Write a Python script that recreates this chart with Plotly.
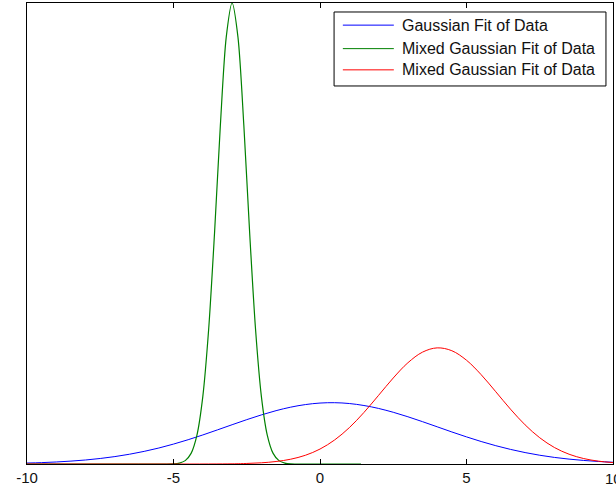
import plotly.graph_objects as go

# Gaussian fit (blue)
blue_x = [-10, -9.5, -9, -8.5, -8, -7.5, -7, -6.5, -6, -5.5, -5, -4.5, -4, -3.5, -3,
          -2.5, -2, -1.5, -1, -0.5, 0, 0.5, 1, 1.5, 2, 2.5, 3, 3.5, 4, 4.5, 5,
          5.5, 6, 6.5, 7, 7.5, 8, 8.5, 9, 9.5, 10]
blue_y = [0.0021, 0.0030, 0.0044, 0.0063, 0.0087, 0.0120, 0.0161, 0.0212, 0.0274,
          0.0347, 0.0432, 0.0527, 0.0630, 0.0740, 0.0852, 0.0962, 0.1065, 0.1157,
          0.1233, 0.1289, 0.1322, 0.1330, 0.1312, 0.1269, 0.1205, 0.1122, 0.1025,
          0.0918, 0.0807, 0.0695, 0.0588, 0.0488, 0.0397, 0.0317, 0.0248, 0.0190,
          0.0143, 0.0106, 0.0077, 0.0055, 0.0038]

# Mixed Gaussian component 1 (green)
green_x = [-10, -5, -4.8, -4.6, -4.4, -4.2, -4, -3.8, -3.6, -3.4, -3.2, -3,
           -2.8, -2.6, -2.4, -2.2, -2, -1.8, -1.6, -1.4, -1.2, -1, 1.4]
green_y = [0, 0.0005, 0.0020, 0.0073, 0.0231, 0.0628, 0.1463, 0.2922, 0.5005,
           0.7352, 0.9260, 1.0, 0.9260, 0.7352, 0.5005, 0.2922, 0.1463, 0.0628,
           0.0231, 0.0073, 0.0020, 0.0005, 0]

# Mixed Gaussian component 2 (red)
red_x = [-10, -3, -2.5, -2, -1.5, -1, -0.5, 0, 0.5, 1, 1.5, 2, 2.5, 3, 3.5, 4,
         4.5, 5, 5.5, 6, 6.5, 7, 7.5, 8, 8.5, 9, 9.5, 10]
red_y = [0, 0.0004, 0.0012, 0.0026, 0.0054, 0.0104, 0.0189, 0.0324, 0.0522,
         0.0788, 0.1118, 0.1490, 0.1866, 0.2196, 0.2427, 0.2519, 0.2457, 0.2251,
         0.1938, 0.1567, 0.1190, 0.0849, 0.0569, 0.0358, 0.0212, 0.0118, 0.0062,
         0.0030]

names = ["Gaussian Fit of Data", "Mixed Gaussian Fit of Data", "Mixed Gaussian Fit of Data"]
colors = ["rgb(0,0,255)", "rgb(0,128,0)", "rgb(255,0,0)"]
x_ticks = [-10, -5, 0, 5, 10]

fig = go.Figure()
fig.add_trace(go.Scatter(x=blue_x, y=blue_y, mode="lines", name=names[0],
                         line=dict(color=colors[0], width=1, shape="spline")))
fig.add_trace(go.Scatter(x=green_x, y=green_y, mode="lines", name=names[1],
                         line=dict(color=colors[1], width=1.2, shape="spline", smoothing=0.8)))
fig.add_trace(go.Scatter(x=red_x, y=red_y, mode="lines", name=names[2],
                         line=dict(color=colors[2], width=1, shape="spline")))

# MATLAB-style legend box drawn by hand (longer line samples than plotly's)
fig.add_shape(type="rect", xref="paper", yref="paper", x0=0.524, x1=0.988,
              y0=0.820, y1=0.9805, line=dict(color="black", width=1),
              fillcolor="white", layer="above")
row_y = [0.952, 0.901, 0.855]
for name, color, ry in zip(names, colors, row_y):
    fig.add_shape(type="line", xref="paper", yref="paper", x0=0.539, x1=0.626,
                  y0=ry, y1=ry, line=dict(color=color, width=1), layer="above")
    fig.add_annotation(text=name, xref="paper", yref="paper", x=0.6365, y=ry,
                       xanchor="left", yanchor="middle", showarrow=False,
                       font=dict(size=16, color="#111"))

# plotly drops the last tick label at the window edge, so place it by hand
fig.add_annotation(text="10", xref="x", yref="paper", x=10, y=0, yshift=-4,
                   xanchor="center", yanchor="top", showarrow=False,
                   font=dict(size=15, color="#111"))

fig.update_layout(
    width=616, height=489,
    margin=dict(l=27, r=3, t=3, b=25),
    paper_bgcolor="white", plot_bgcolor="white",
    font=dict(family="Arial, Liberation Sans, sans-serif", size=15, color="#111"),
    showlegend=False,
    xaxis=dict(range=[-10, 10], tickvals=x_ticks,
               ticktext=[str(t) for t in x_ticks],
               showline=True, linecolor="black", linewidth=1, mirror="ticks",
               ticks="inside", ticklen=5, tickcolor="black",
               showgrid=False, zeroline=False),
    yaxis=dict(range=[0, 1.0], showline=True, linecolor="black", linewidth=1,
               mirror=True, showticklabels=False, ticks="",
               showgrid=False, zeroline=False),
)

# drop the default page margin so the figure fills the window
fig.write_html("out.html", config={"displayModeBar": False},
               post_script="document.body.style.margin='0px';")
